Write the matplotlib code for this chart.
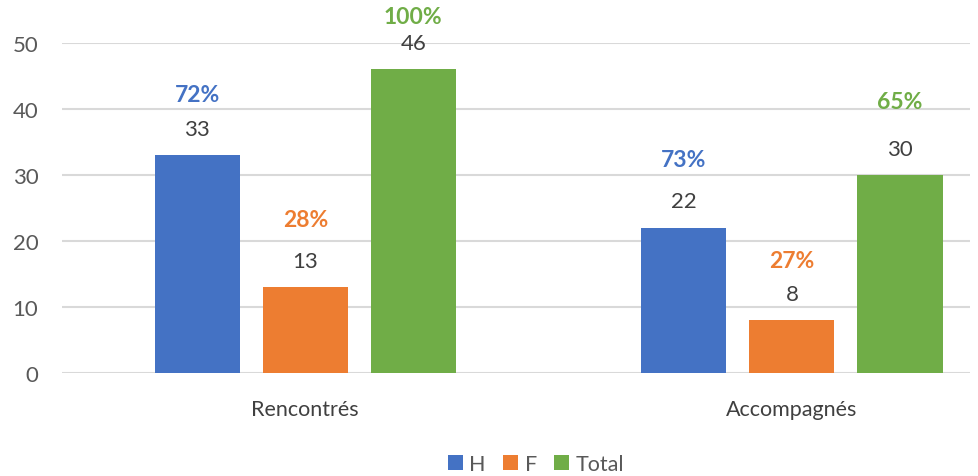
import matplotlib.pyplot as plt
import numpy as np

# data
categories = ['Rencontrés', 'Accompagnés']
series = ['H', 'F', 'Total']
h_vals = [33, 22]
f_vals = [13, 8]
total_vals = [46, 30]
base_total = 46  # percentages are relative to the total of "Rencontrés"

colors = ['#4472C4', '#ED7D31', '#70AD47']
# vertical offset (points) of the % labels above each bar, per series/category
pct_offsets = [[44, 49], [49, 43], [38, 53]]

plt.rcParams['font.family'] = ['Lato', 'DejaVu Sans']

fig = plt.figure(figsize=(9.79, 4.77), dpi=100)
ax = fig.add_axes([62 / 979, 0.216, 908 / 979, 0.692])

x = np.arange(len(categories))
width = 0.175
step = 0.222
all_vals = [h_vals, f_vals, total_vals]

for i, (name, vals, col) in enumerate(zip(series, all_vals, colors)):
    pos = x + (i - 1) * step
    ax.bar(pos, vals, width, color=col, label=name, zorder=3)
    for j, v in enumerate(vals):
        ax.annotate(str(v), (pos[j], v), xytext=(0, 19), textcoords='offset points',
                    ha='center', va='center', fontsize=16, color='#404040')
        if j == 0:
            pct = v / base_total
        else:
            pct = v / total_vals[1] if i < 2 else v / base_total
        ax.annotate(f'{pct:.0%}', (pos[j], v), xytext=(0, pct_offsets[i][j]),
                    textcoords='offset points', ha='center', va='center',
                    fontsize=16.5, color=col, fontweight='bold', annotation_clip=False)

ax.set_ylim(0, 50)
ax.set_xlim(-0.5, 1.366)
ax.set_yticks(range(0, 51, 10))
ax.yaxis.grid(True, color='#D9D9D9', linewidth=1.5, zorder=0)
ax.set_axisbelow(True)
for s in ax.spines.values():
    s.set_visible(False)
ax.tick_params(axis='y', length=0, pad=17, labelsize=16, labelcolor='#595959')
ax.set_xticks(x)
ax.set_xticklabels(categories)
ax.tick_params(axis='x', length=0, pad=19, labelsize=15.5, labelcolor='#404040')

ax.legend(loc='center', bbox_to_anchor=(0.522, -0.276), ncol=3, frameon=False,
          handlelength=0.7, handleheight=0.7, handletextpad=0.3, columnspacing=0.8,
          fontsize=15.5, labelcolor='#595959')

fig.savefig('out.png', dpi=100)
